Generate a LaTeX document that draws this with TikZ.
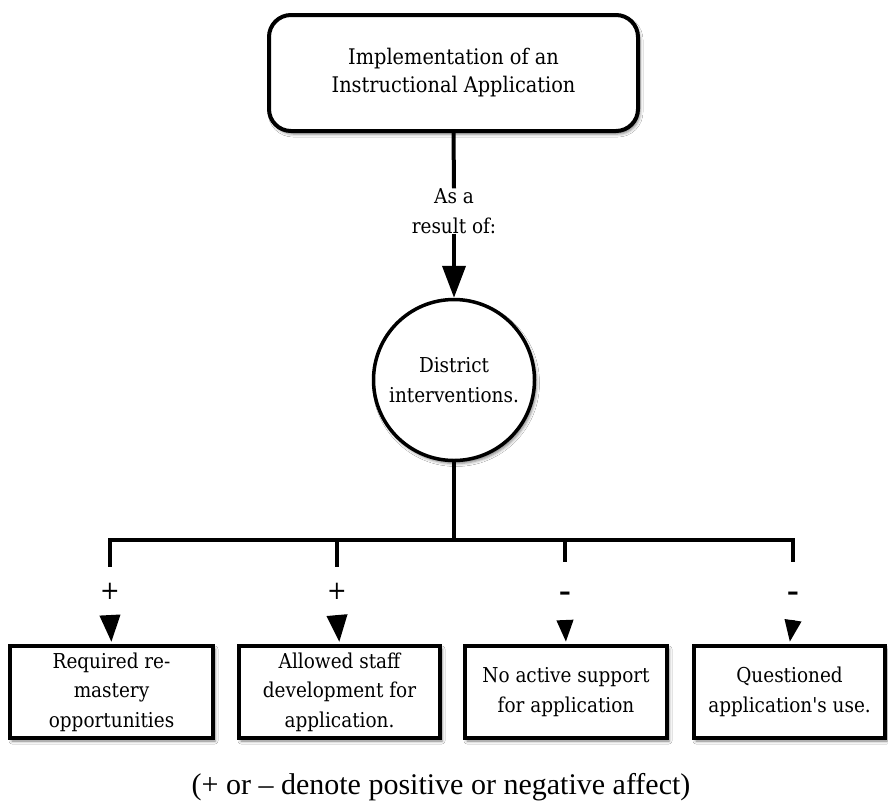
\documentclass[tikz,border=0pt]{standalone}
\usepackage{fontspec}
\setmainfont{DejaVu Serif Condensed}[Ligatures=TeXOff]
\newfontfamily\capfont{Liberation Serif}
\usetikzlibrary{arrows.meta,shadows.blur}

\tikzset{
  txt/.style={font=\fontsize{20.5}{29.5}\selectfont, align=center},
  shade/.style={blur shadow={shadow xshift=2pt, shadow yshift=-3pt,
      shadow blur radius=3pt, shadow opacity=50}},
  topbox/.style={font=\fontsize{21.5}{28}\selectfont, align=center, draw, fill=white,
      line width=4pt, rounded corners=22pt,
      minimum width=369pt, minimum height=116pt, shade},
  roundnode/.style={txt, circle, draw, fill=white, line width=3.5pt,
      minimum size=161pt, inner sep=0pt, shade},
  leaf/.style={txt, draw, fill=white, line width=4pt, minimum height=92pt,
      inner sep=0pt, shade},
  plus/.style={font=\fontsize{26}{26}\selectfont, inner sep=0pt,
      text height=16pt, text depth=0pt},
  minus/.style={font=\fontsize{26}{26}\bfseries, inner sep=0pt,
      text height=18pt, text depth=0pt},
  conn/.style={line width=4pt},
  bigarrow/.style={line width=4pt, -{Triangle[width=23pt,length=32pt]}},
  plusarrow/.style={line width=4pt, shorten >=2pt, -{Triangle[width=20pt,length=27pt]}},
  minusarrow/.style={line width=4pt, shorten >=2pt, -{Triangle[width=16pt,length=22pt]}},
}

\begin{document}
\begin{tikzpicture}[x=1pt,y=-1pt]
  \useasboundingbox[fill=white] (0,0) rectangle (888,801);

  % top concept and the district node
  \node[topbox] (impl) at (453.5,73) {Implementation of an\\Instructional Application};
  \node[txt, inner sep=0pt] (asa) at (454,211) {As a\\result of:};
  \node[roundnode] (dist) at (454,380) {District\\interventions.};

  \draw[conn] (impl.south) -- (asa.north);
  \draw[bigarrow] (asa.south) -- (dist.north);

  % outcome boxes
  \node[leaf, minimum width=203pt] (b1) at (111.5,692) {Required re-\\mastery\\opportunities};
  \node[leaf, minimum width=201pt] (b2) at (339.5,692) {Allowed staff\\development for\\application.};
  \node[leaf, minimum width=202pt] (b3) at (566,692) {No active support\\for application};
  \node[leaf, minimum width=191pt] (b4) at (789.5,692) {Questioned\\application's use.};

  % signs on the branches
  \node[plus, minimum height=48pt] (s1) at (110,591) {+};
  \node[plus, minimum height=48pt] (s2) at (337,591) {+};
  \node[minus, minimum height=58pt] (s3) at (565,591) {–};
  \node[minus, minimum height=58pt] (s4) at (793,591) {–};

  % branching bar
  \coordinate (hub) at (454,540);
  \coordinate (j1) at (110,540);
  \coordinate (j2) at (337,540);
  \coordinate (j3) at (565,540);
  \coordinate (j4) at (793,540);

  \draw[conn] (dist.south) -- (hub);
  \draw[conn] (s1.north) -- (j1) -- (j4) -- (s4.north);
  \draw[conn] (j2) -- (s2.north);
  \draw[conn] (j3) -- (s3.north);

  \draw[plusarrow] (s1.south) -- (b1.north);
  \draw[plusarrow] (s2.south) -- (b2.north);
  \draw[minusarrow] (s3.south) -- (b3.north);
  \draw[minusarrow] (s4.south) -- (b4.north);

  % legend
  \node[font=\capfont\fontsize{30}{30}\selectfont, anchor=base, inner sep=0pt] (legend)
    at (441,794) {(+ or – denote positive or negative affect)};
\end{tikzpicture}
\end{document}
